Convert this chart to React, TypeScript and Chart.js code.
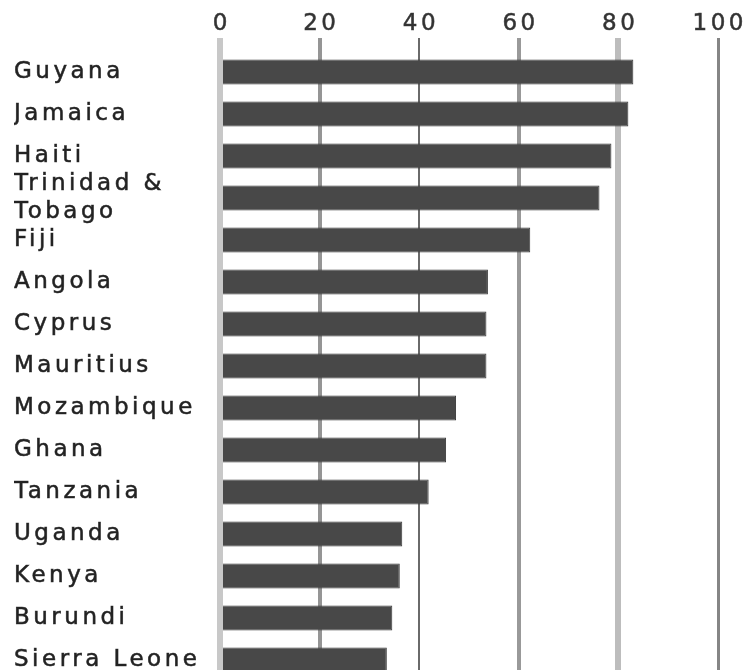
import React, { useEffect, useRef } from 'react';
import { Chart, registerables } from 'chart.js';

Chart.register(...registerables);

const categories: (string | string[])[] = [
  'Guyana',
  'Jamaica',
  'Haiti',
  ['Trinidad &', 'Tobago'],
  'Fiji',
  'Angola',
  'Cyprus',
  'Mauritius',
  'Mozambique',
  'Ghana',
  'Tanzania',
  'Uganda',
  'Kenya',
  'Burundi',
  'Sierra Leone',
];

const values: number[] = [83.0, 82.0, 78.6, 76.2, 62.3, 53.8, 53.5, 53.5, 47.4, 45.4, 41.9, 36.6, 36.1, 34.6, 33.5];

const xTicks: number[] = [0, 20, 40, 60, 80, 100];
const gridColors: string[] = ['#c8c8c8', '#959595', '#6a6a6a', '#999999', '#bdbdbd', '#858585'];
const gridWidths: number[] = [6, 4, 2, 4, 6, 3];

const spacingPlugin = {
  id: 'letterSpacing',
  beforeDraw(chart: any) {
    chart.ctx.letterSpacing = '3.5px';
  },
  afterDraw(chart: any) {
    chart.ctx.letterSpacing = '0px';
  },
};

export default function App() {
  const ref = useRef<HTMLCanvasElement | null>(null);

  useEffect(() => {
    if (!ref.current) return;
    const font = { family: '"DejaVu Sans", Verdana, sans-serif', size: 23 };
    const chart = new Chart(ref.current, {
      type: 'bar',
      data: {
        labels: categories,
        datasets: [
          {
            data: values,
            backgroundColor: '#484848',
            borderColor: '#3a3a3a',
            borderWidth: 1,
            barPercentage: 0.6,
            categoryPercentage: 1,
          },
        ],
      },
      options: {
        indexAxis: 'y',
        responsive: false,
        animation: false,
        layout: { padding: { left: 14, right: 28, top: 0, bottom: 19 } },
        plugins: { legend: { display: false }, tooltip: { enabled: false } },
        scales: {
          x: {
            position: 'top',
            min: 0,
            max: 100,
            afterBuildTicks: (scale: any) => {
              scale.ticks = xTicks.map((v) => ({ value: v }));
            },
            afterFit: (scale: any) => {
              scale.height = 51;
            },
            border: { display: false },
            grid: {
              drawTicks: true,
              tickLength: 13,
              color: (ctx: any) => gridColors[ctx.index] ?? '#999',
              lineWidth: (ctx: any) => gridWidths[ctx.index] ?? 2,
            },
            ticks: {
              font,
              color: '#333',
              textStrokeColor: '#555',
              textStrokeWidth: 0.6,
              padding: 0,
              labelOffset: 1.75,
              maxRotation: 0,
            },
          },
          y: {
            afterFit: (scale: any) => {
              scale.width = 206;
            },
            border: { display: false },
            grid: { display: false, drawTicks: false },
            ticks: {
              font,
              color: '#222',
              textStrokeColor: '#444',
              textStrokeWidth: 0.6,
              crossAlign: 'far',
              padding: 0,
              autoSkip: false,
            },
          },
        },
      },
      plugins: [spacingPlugin],
    } as any);
    return () => chart.destroy();
  }, []);

  return (
    <div style={{ position: 'fixed', left: 0, top: 0, width: 746, height: 670, overflow: 'hidden', background: '#fff' }}>
      <canvas ref={ref} width={746} height={700} style={{ display: 'block' }} />
    </div>
  );
}
